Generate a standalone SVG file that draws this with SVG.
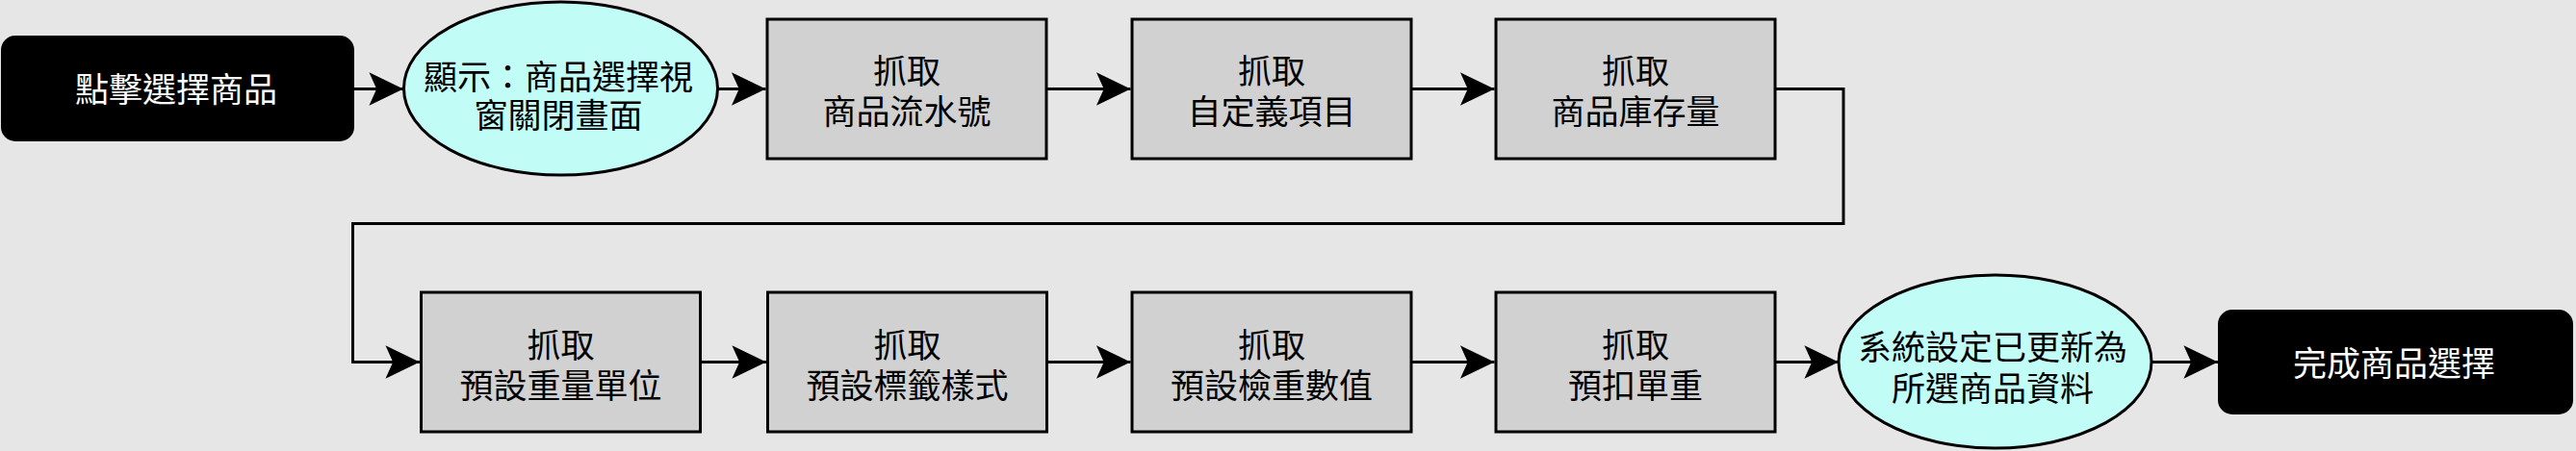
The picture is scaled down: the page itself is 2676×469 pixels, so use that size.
<svg xmlns="http://www.w3.org/2000/svg" width="2676" height="469" viewBox="0 0 2676 469">
<style>
  .bg{fill:#e6e6e6}
  .term{fill:#000000;stroke:#000000;stroke-width:2}
  .proc{fill:#d1d1d1;stroke:#000000;stroke-width:3}
  .disp{fill:#c2fcf7;stroke:#000000;stroke-width:3}
  .t{font-family:"Liberation Sans","Noto Sans CJK TC","Noto Sans CJK SC",sans-serif;font-size:35px;text-anchor:middle;dominant-baseline:central;fill:#000000}
  .tw{fill:#ffffff}
  .edge{fill:none;stroke:#000000;stroke-width:3}
</style>
<defs>
  <marker id="arr" markerUnits="userSpaceOnUse" markerWidth="40" markerHeight="40" viewBox="-34 -18 36 36" refX="0" refY="0" orient="auto">
    <path d="M0,0 L-32,-15.5 L-25,0 L-32,15.5 Z" fill="#000000"/>
  </marker>
</defs>
<rect class="bg" x="0" y="0" width="2676" height="469"/>

<g id="connectors">
  <path class="edge" d="M367,92.5 H419" marker-end="url(#arr)"/>
  <path class="edge" d="M745.5,92.5 H795.5" marker-end="url(#arr)"/>
  <path class="edge" d="M1087,92.5 H1174.5" marker-end="url(#arr)"/>
  <path class="edge" d="M1466,92.5 H1552.5" marker-end="url(#arr)"/>
  <path class="edge" d="M1844,92.5 H1915 V232.5 H366.5 V376.5 H436" marker-end="url(#arr)"/>
  <path class="edge" d="M727.5,376.5 H796" marker-end="url(#arr)"/>
  <path class="edge" d="M1087.5,376.5 H1174.5" marker-end="url(#arr)"/>
  <path class="edge" d="M1466,376.5 H1552.5" marker-end="url(#arr)"/>
  <path class="edge" d="M1844,376.5 H1910" marker-end="url(#arr)"/>
  <path class="edge" d="M2235,376.5 H2304" marker-end="url(#arr)"/>
</g>

<g id="n-start">
  <rect class="term" x="2" y="38" width="365" height="108" rx="14"/>
  <text class="t tw" x="183" y="93">點擊選擇商品</text>
</g>
<g id="n-show">
  <ellipse class="disp" cx="582.5" cy="92" rx="163" ry="90"/>
  <text class="t"><tspan x="580" y="80">顯示：商品選擇視</tspan><tspan x="580" y="120">窗關閉畫面</tspan></text>
</g>
<g id="n-serial">
  <rect class="proc" x="797" y="20" width="290" height="145"/>
  <text class="t"><tspan x="942" y="74">抓取</tspan><tspan x="942" y="116">商品流水號</tspan></text>
</g>
<g id="n-custom">
  <rect class="proc" x="1176" y="20" width="290" height="145"/>
  <text class="t"><tspan x="1321" y="74">抓取</tspan><tspan x="1321" y="116">自定義項目</tspan></text>
</g>
<g id="n-stock">
  <rect class="proc" x="1554" y="20" width="290" height="145"/>
  <text class="t"><tspan x="1699" y="74">抓取</tspan><tspan x="1699" y="116">商品庫存量</tspan></text>
</g>
<g id="n-unit">
  <rect class="proc" x="437.5" y="304" width="290" height="145"/>
  <text class="t"><tspan x="582.5" y="359">抓取</tspan><tspan x="582.5" y="401">預設重量單位</tspan></text>
</g>
<g id="n-label">
  <rect class="proc" x="797.5" y="304" width="290" height="145"/>
  <text class="t"><tspan x="942.5" y="359">抓取</tspan><tspan x="942.5" y="401">預設標籤樣式</tspan></text>
</g>
<g id="n-check">
  <rect class="proc" x="1176" y="304" width="290" height="145"/>
  <text class="t"><tspan x="1321" y="359">抓取</tspan><tspan x="1321" y="401">預設檢重數值</tspan></text>
</g>
<g id="n-tare">
  <rect class="proc" x="1554" y="304" width="290" height="145"/>
  <text class="t"><tspan x="1699" y="359">抓取</tspan><tspan x="1699" y="401">預扣單重</tspan></text>
</g>
<g id="n-updated">
  <ellipse class="disp" cx="2072.5" cy="376" rx="162.5" ry="90"/>
  <text class="t"><tspan x="2070" y="361">系統設定已更新為</tspan><tspan x="2070" y="404">所選商品資料</tspan></text>
</g>
<g id="n-end">
  <rect class="term" x="2305" y="323" width="367" height="107" rx="14"/>
  <text class="t tw" x="2487" y="378">完成商品選擇</text>
</g>
</svg>
